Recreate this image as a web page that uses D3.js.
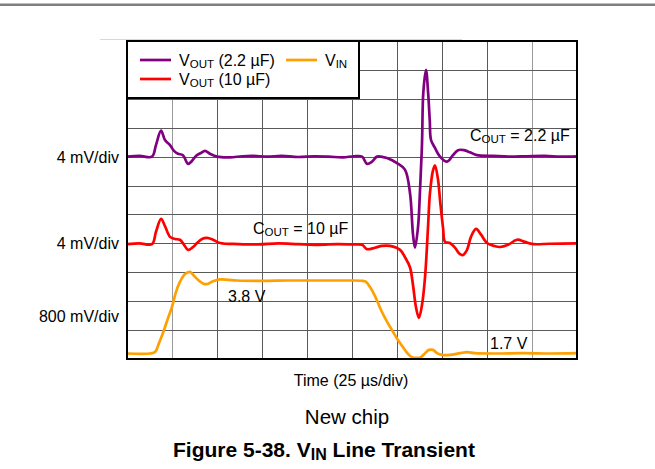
<!DOCTYPE html>
<html>
<head>
<meta charset="utf-8">
<script src="https://cdn.jsdelivr.net/npm/d3@7"></script>
<style>
  html, body { margin: 0; padding: 0; background: #fff; }
  svg { display: block; font-family: "Liberation Sans", Arial, sans-serif; }
</style>
</head>
<body>
<svg id="chart" width="655" height="469"></svg>
<script>
// ---------------- DATA ----------------
// time axis: 10 divisions of 25 µs
const timeDivs = d3.range(0, 11);            // gridline positions (divisions)
const timePerDiv = 25;                        // µs per division
const rowDivs = d3.range(0, 12);              // 11 vertical divisions

// VOUT (2.2 µF): [time µs, deviation mV] — 4 mV/div, baseline on row 7
const vout22 = [
  [0,0],[7,0.1],[13.9,0],[16.1,1.6],[18.9,3.6],[21.1,2.3],[23.9,1.6],[26.1,0.8],[28.3,0.4],
  [31.1,0.2],[33.9,-1.0],[36.1,-0.6],[38.3,0.1],[41.1,0.5],[43.3,0.8],[46.1,0.4],[50,0],
  [57,-0.1],[64,0.05],[70,0.1],[78,0],[86,0.1],[95,-0.05],[104,0.05],[112,0],[120,-0.1],[126,0.05],[130.6,0],
  [133.3,-1.0],[136.1,-0.7],[138.9,0],[144.4,-0.2],[150,-0.9],[154.4,-1.8],[157.2,-5.0],
  [158.9,-10.8],[160,-12.6],[161.7,-9.7],[162.8,-4.6],[163.9,1.9],[164.6,8.8],[166.1,12.0],
  [167.3,8.8],[168.2,5.0],[168.9,2.3],[171.1,1.2],[173.9,0],[177.8,-0.7],[181.1,0.2],
  [183.9,0.9],[187.2,0.9],[190.6,0.6],[194.4,0.2],[203.3,0.1],[212,0],[222,0.05],[232,0.1],[241,0],[250,0.05]
];

// VOUT (10 µF): [time µs, deviation mV] — 4 mV/div, baseline on row 4
const vout10 = [
  [0,-0.1],[7,0],[13.9,-0.1],[16.1,1.6],[18.9,3.4],[21.1,2.4],[23.9,0.9],[26.7,0.6],[29.4,0.5],
  [31.7,-0.2],[33.9,-0.9],[36.7,-0.5],[38.9,0.05],[41.7,0.6],[44.4,0.75],[47.8,0.5],[51.7,0.05],
  [62,-0.1],[73,-0.15],[84,0],[95,-0.1],[106,-0.2],[117,-0.1],[125,-0.15],[130.6,-0.2],
  [133.3,-0.8],[137.8,-0.6],[141.7,-0.35],[146.1,-0.35],[151.7,-0.9],[154.4,-1.9],[157.2,-3.3],
  [158.9,-5.8],[160.6,-8.9],[162.2,-10.3],[163.9,-8.5],[165.6,-4.6],[167.2,2.1],[168.3,6.9],
  [170,10.1],[171.1,10.8],[172.8,8.8],[173.9,6.0],[175.6,2.1],[176.7,0.2],[179.4,0.05],
  [182.2,-0.6],[185,-1.5],[186.7,-1.6],[188.9,-0.9],[191.1,0.9],[193.9,2.0],[196.7,1.2],
  [200,0.05],[203.9,-0.35],[207.2,-0.5],[211.7,-0.2],[216.7,0.5],[221.1,0.2],[225.6,-0.1],
  [235,-0.05],[250,0]
];

// VIN: [time µs, volts] — 800 mV/div
const vin = [
  [0,1.70],[12.8,1.70],[15.6,1.74],[17.8,1.99],[20,2.27],[22.8,2.68],[25,2.99],[27.2,3.40],
  [29.4,3.68],[32.2,3.90],[35,3.96],[37.2,3.85],[39.4,3.74],[42.2,3.64],[44.4,3.62],[47.8,3.70],
  [51.7,3.75],[56.1,3.74],[61.1,3.72],[75,3.71],[90,3.72],[105,3.72],[120,3.72],[131,3.71],
  [132.8,3.68],[135,3.54],[137.8,3.29],[140.6,2.96],[143.9,2.63],[147.8,2.30],[150.6,2.07],
  [153.3,1.88],[156.1,1.69],[158.3,1.60],[161.1,1.58],[163.3,1.60],[165.6,1.71],[167.8,1.80],
  [170,1.80],[172.2,1.71],[175,1.66],[179.4,1.66],[185,1.71],[188.9,1.74],[193.3,1.71],
  [205,1.70],[220,1.71],[235,1.70],[250,1.71]
];

// scale settings per trace (units per division, baseline row)
const vout22Base = 7, vout10Base = 4, mVperDiv = 4;
const vinPerDiv = 0.8, vinOffset = 1.548;   // volts at row 0

const yLabels = [
  {text: "4 mV/div", row: 7},
  {text: "4 mV/div", row: 4},
  {text: "800 mV/div", row: 1.5}
];

// ---------------- LAYOUT ----------------
const svg = d3.select("#chart");
const plotLeft = 127, plotTop = 41, W = 450, H = 318;

const x = d3.scaleLinear().domain([0, 10 * timePerDiv]).range([plotLeft, plotLeft + W]);
const y = d3.scaleLinear().domain([0, 11]).range([plotTop + H, plotTop]);

// page decorations
svg.append("rect").attr("x", 0).attr("y", 3.5).attr("width", 655).attr("height", 2.5).attr("fill", "#7f7f7f");
svg.append("line").attr("x1", 100).attr("x2", 462).attr("y1", 39.5).attr("y2", 39.5)
  .attr("stroke", "#d8d8d8").attr("stroke-width", 1);

// grid
const g = svg.append("g");
g.selectAll("line.v").data(timeDivs.slice(1, -1)).join("line")
  .attr("x1", d => Math.round(x(d * timePerDiv)) + 0.5).attr("x2", d => Math.round(x(d * timePerDiv)) + 0.5)
  .attr("y1", plotTop).attr("y2", plotTop + H)
  .attr("stroke", (d) => (d === 1 || d === 9) ? "#9a9a9a" : "#5a5a5a").attr("stroke-width", 1);
g.selectAll("line.h").data(rowDivs.slice(1, -1)).join("line")
  .attr("x1", plotLeft).attr("x2", plotLeft + W)
  .attr("y1", d => Math.round(y(d)) + 0.5).attr("y2", d => Math.round(y(d)) + 0.5)
  .attr("stroke", "#5a5a5a").attr("stroke-width", 1);

// traces
const line = d3.line().curve(d3.curveCatmullRom.alpha(0.5));
const traces = [
  {data: vout22, color: "#800080", f: v => vout22Base + v / mVperDiv},
  {data: vout10, color: "#ff0000", f: v => vout10Base + v / mVperDiv},
  {data: vin,    color: "#ffa000", f: v => (v - vinOffset) / vinPerDiv}
];
svg.append("clipPath").attr("id", "clip").append("rect")
  .attr("x", plotLeft).attr("y", plotTop).attr("width", W).attr("height", H);
// draw order: VIN first, then red, purple on top
[traces[2], traces[1], traces[0]].forEach(t => {
  svg.append("path")
    .attr("clip-path", "url(#clip)")
    .attr("d", line(t.data.map(d => [x(d[0]), y(t.f(d[1]))])))
    .attr("fill", "none").attr("stroke", t.color).attr("stroke-width", 2.7)
    .attr("stroke-linejoin", "round").attr("stroke-linecap", "round");
});

// plot border
svg.append("rect").attr("x", plotLeft).attr("y", plotTop).attr("width", W).attr("height", H)
  .attr("fill", "none").attr("stroke", "#000").attr("stroke-width", 2);

// legend
const lg = svg.append("g");
lg.append("rect").attr("x", plotLeft).attr("y", plotTop).attr("width", 232).attr("height", 57)
  .attr("fill", "#fff").attr("stroke", "#000").attr("stroke-width", 2);

function subText(sel, xPos, yPos, main, sub, rest, size) {
  const t = sel.append("text").attr("x", xPos).attr("y", yPos).attr("font-size", size).attr("fill", "#000");
  t.append("tspan").text(main);
  t.append("tspan").text(sub).attr("font-size", size * 0.72).attr("dy", 1.5);
  if (rest) t.append("tspan").text(rest).attr("dy", -1.5);
  return t;
}
const legendItems = [
  {color: "#800080", x: 140, y: 60, main: "V", sub: "OUT", rest: " (2.2 µF)"},
  {color: "#ff0000", x: 140, y: 79, main: "V", sub: "OUT", rest: " (10 µF)"},
  {color: "#ffa000", x: 286, y: 60, main: "V", sub: "IN", rest: ""}
];
legendItems.forEach(it => {
  lg.append("line").attr("x1", it.x).attr("x2", it.x + 31).attr("y1", it.y).attr("y2", it.y)
    .attr("stroke", it.color).attr("stroke-width", 2.7);
  subText(lg, it.x + 39, it.y + 6, it.main, it.sub, it.rest, 16);
});

// annotations
subText(svg, 470, 141, "C", "OUT", " = 2.2 µF", 16);
subText(svg, 253, 234, "C", "OUT", " = 10 µF", 16);
svg.append("text").attr("x", 228).attr("y", 302).attr("font-size", 16).text("3.8 V");
svg.append("text").attr("x", 490).attr("y", 349).attr("font-size", 16).text("1.7 V");

// y labels
svg.selectAll("text.ylab").data(yLabels).join("text")
  .attr("x", 119).attr("y", d => y(d.row) + 6).attr("text-anchor", "end")
  .attr("font-size", 16).text(d => d.text);

// x label
svg.append("text").attr("x", 351).attr("y", 386).attr("text-anchor", "middle")
  .attr("font-size", 16).text("Time (25 µs/div)");

svg.append("text").attr("x", 347).attr("y", 424).attr("text-anchor", "middle")
  .attr("font-size", 20.5).text("New chip");

const title = svg.append("text").attr("x", 173).attr("y", 457).attr("font-size", 21)
  .attr("font-weight", "bold");
title.append("tspan").text("Figure 5-38. V");
title.append("tspan").text("IN").attr("font-size", 16).attr("dy", 2.5);
title.append("tspan").text(" Line Transient").attr("dy", -2.5);
</script>
</body>
</html>
